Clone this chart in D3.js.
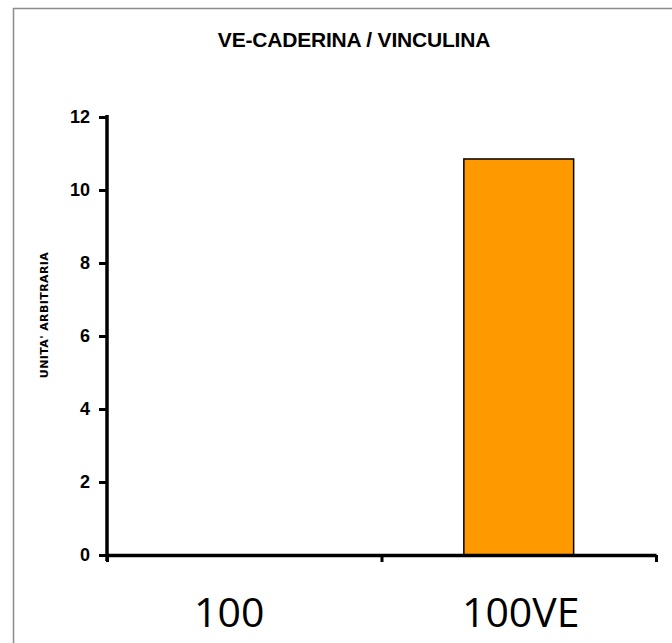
<!DOCTYPE html>
<html>
<head>
<meta charset="utf-8">
<script src="https://cdn.jsdelivr.net/npm/d3@7"></script>
<style>
  body { margin: 0; background: #fff; }
  svg { display: block; }
</style>
</head>
<body>
<svg id="chart" width="672" height="643"></svg>
<script>
const categories = ['100', '100VE'];
const values = [0, 10.85];
const yTicks = [0, 2, 4, 6, 8, 10, 12];

const margin = { left: 107, right: 16, top: 117, bottom: 88 };
const width = 672 - margin.left - margin.right;
const height = 643 - margin.top - margin.bottom;

const svg = d3.select('#chart');

// outer frame of the chart area
svg.append('rect')
  .attr('x', 13.5).attr('y', 8.5)
  .attr('width', 700).attr('height', 700)
  .attr('fill', 'none')
  .attr('stroke', '#8c8c8c')
  .attr('stroke-width', 1.5);

svg.append('text')
  .attr('x', 354)
  .attr('y', 47)
  .attr('text-anchor', 'middle')
  .style('font-family', 'Liberation Sans, Arial, sans-serif')
  .style('font-weight', 'bold')
  .style('font-size', '21px')
  .style('letter-spacing', '-0.2px')
  .text('VE-CADERINA / VINCULINA');

const g = svg.append('g')
  .attr('transform', `translate(${margin.left},${margin.top})`);

const x = d3.scaleBand()
  .domain(categories)
  .range([0, width])
  .paddingInner(0.6)
  .paddingOuter(0.3);

const xEdge = d3.scaleLinear().domain([0, categories.length]).range([0, width]);

const y = d3.scaleLinear()
  .domain([0, 12])
  .range([height, 0]);

// bars
g.selectAll('.bar')
  .data(values)
  .enter().append('rect')
  .attr('class', 'bar')
  .attr('x', (d, i) => x(categories[i]))
  .attr('y', d => y(d))
  .attr('width', x.bandwidth())
  .attr('height', d => height - y(d))
  .attr('fill', '#ff9900')
  .attr('stroke', '#000')
  .attr('stroke-width', 1.5)
  .style('display', d => d > 0 ? null : 'none');

// y axis
const yAxis = g.append('g')
  .call(d3.axisLeft(y).tickValues(yTicks).tickSize(8).tickSizeOuter(0).tickPadding(9));
yAxis.select('.domain').attr('stroke', '#000').attr('stroke-width', 3.5)
  .attr('d', `M0,${height + 6}V-2`);
yAxis.selectAll('.tick line').attr('stroke', '#000').attr('stroke-width', 3);
yAxis.selectAll('.tick text')
  .style('font-family', 'Liberation Sans, Arial, sans-serif')
  .style('font-weight', 'bold')
  .style('font-size', '18px')
  .attr('fill', '#000');

// x axis: category boundary ticks
const xTickAxis = g.append('g')
  .attr('transform', `translate(0,${height})`)
  .call(d3.axisBottom(xEdge).tickValues([0, 1, 2]).tickSize(7).tickSizeOuter(0).tickFormat(''));
xTickAxis.select('.domain').attr('stroke', '#000').attr('stroke-width', 3.5);
xTickAxis.selectAll('.tick line').attr('stroke', '#000').attr('stroke-width', 3);

// x axis: category labels
const xLabelAxis = g.append('g')
  .attr('transform', `translate(0,${height})`)
  .call(d3.axisBottom(x).tickSize(0).tickPadding(43));
xLabelAxis.select('.domain').remove();
xLabelAxis.selectAll('.tick text')
  .style('font-family', 'Open Sans, Noto Sans, sans-serif')
  .style('font-size', '41px')
  .attr('dx', (d, i) => i === 0 ? -15 : 2)
  .attr('fill', '#000');

// y label
svg.append('text')
  .attr('transform', 'rotate(-90)')
  .attr('x', -315)
  .attr('y', 48)
  .attr('text-anchor', 'middle')
  .style('font-family', 'DejaVu Sans, sans-serif')
  .style('font-weight', 'bold')
  .style('font-size', '11px')
  .style('letter-spacing', '0.4px')
  .text("UNITA' ARBITRARIA");
</script>
</body>
</html>
